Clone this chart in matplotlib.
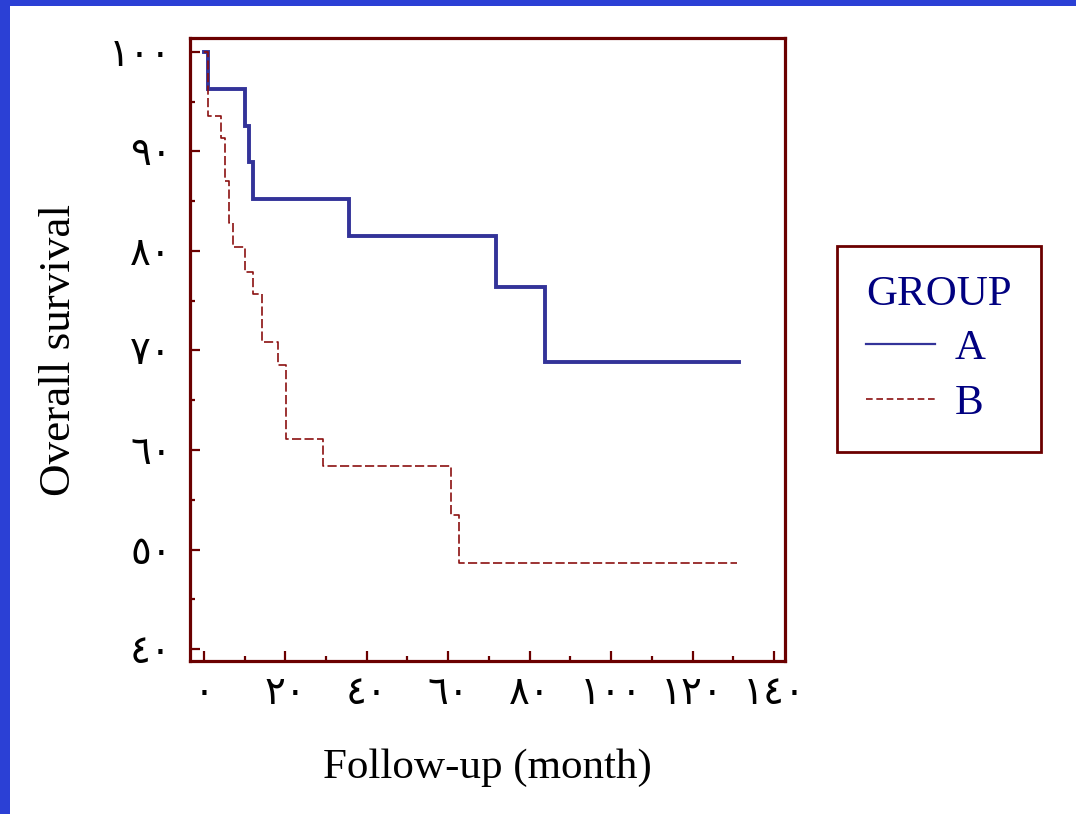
import matplotlib
matplotlib.use("Agg")
import matplotlib.pyplot as plt
from matplotlib.lines import Line2D
from matplotlib.patches import Rectangle
from matplotlib.ticker import MultipleLocator, FixedLocator, FuncFormatter

# ---------------- data ----------------
time_a = [0, 1.0, 10.2, 11.1, 12.1, 35.7, 71.7, 83.8, 131.3]
surv_a = [100, 96.3, 92.6, 88.9, 85.2, 81.5, 76.4, 68.8, 68.8]

time_b = [0, 1.0, 4.2, 5.2, 6.2, 7.2, 10.1, 12.1, 14.2, 18.1, 20.1, 29.2, 60.7, 62.7, 131.0]
surv_b = [100, 93.6, 91.4, 87.0, 82.8, 80.4, 77.9, 75.7, 70.9, 68.5, 61.1, 58.4, 53.5, 48.6, 48.6]

group_labels = ["A", "B"]
legend_title = "GROUP"
x_label = "Follow-up (month)"
y_label = "Overall survival"
x_ticks = [0, 20, 40, 60, 80, 100, 120, 140]
y_ticks = [40, 50, 60, 70, 80, 90, 100]

# ---------------- styling ----------------
W, H = 1076, 814
BLUE_BG = "#2B40D5"
FRAME = "#6B0000"
COL_A = "#333399"
COL_B = "#8B1010"
NAVY = "#000080"
SERIF = ["Liberation Serif", "DejaVu Serif"]
DIGIT_FONT = ["Liberation Serif", "DejaVu Sans"]

ARABIC = str.maketrans("0123456789", "٠١٢٣٤٥٦٧٨٩")


def to_arabic(v, pos=None):
    return str(int(round(v))).translate(ARABIC)


fig = plt.figure(figsize=(W / 100, H / 100), dpi=100, facecolor=BLUE_BG)
fig.add_artist(Rectangle((10 / W, 0), 1, (H - 6) / H, transform=fig.transFigure,
                         facecolor="white", edgecolor="none", zorder=-10))

ax = fig.add_axes([190 / W, (H - 661) / H, (785 - 190) / W, (661 - 38) / H])
ax.set_facecolor("white")

ax.plot(time_a, surv_a, drawstyle="steps-post", color=COL_A, lw=2.8,
        solid_joinstyle="miter", label=group_labels[0])
ax.plot(time_b, surv_b, drawstyle="steps-post", color=COL_B, lw=1.2,
        dashes=(5.5, 2.0), label=group_labels[1])

ax.set_xlim(-3.4, 142.7)
ax.set_ylim(38.8, 101.4)

ax.xaxis.set_major_locator(FixedLocator(x_ticks))
ax.xaxis.set_minor_locator(MultipleLocator(10))
ax.yaxis.set_major_locator(FixedLocator(y_ticks))
ax.yaxis.set_minor_locator(MultipleLocator(5))
ax.xaxis.set_major_formatter(FuncFormatter(to_arabic))
ax.yaxis.set_major_formatter(FuncFormatter(to_arabic))

ax.tick_params(which="both", direction="in", color=FRAME, width=1.6,
               top=False, right=False)
ax.tick_params(which="major", length=7.5)
ax.tick_params(which="minor", length=3.8)
ax.tick_params(axis="x", which="major", pad=11)
ax.tick_params(axis="y", which="major", pad=13)

for lab in ax.get_xticklabels() + ax.get_yticklabels():
    lab.set_fontfamily(DIGIT_FONT)
    lab.set_fontsize(28)
    lab.set_color("black")

for sp in ax.spines.values():
    sp.set_color(FRAME)
    sp.set_linewidth(2.3)

ax.set_xlabel(x_label, fontsize=31, family=SERIF, labelpad=25)
ax.set_ylabel(y_label, fontsize=32.5, family=SERIF, labelpad=22)

handles = [Line2D([], [], color=COL_A, lw=1.6),
           Line2D([], [], color=COL_B, lw=1.2, dashes=(4, 2.2))]
leg = fig.legend(handles, group_labels, title=legend_title,
                 loc="upper left",
                 bbox_to_anchor=(837 / W, 1 - 452 / H, 204 / W, 206 / H),
                 bbox_transform=fig.transFigure, mode="expand",
                 borderaxespad=0, borderpad=0.68, labelspacing=0.36,
                 handlelength=1.6, handletextpad=0.45,
                 prop={"family": SERIF, "size": 31},
                 title_fontproperties={"family": SERIF, "size": 31},
                 alignment="left", fancybox=False, framealpha=1)
leg.get_frame().set_edgecolor(FRAME)
leg.get_frame().set_linewidth(2.0)
leg.get_title().set_color(NAVY)
for t in leg.get_texts():
    t.set_color(NAVY)

fig.savefig("out.png", dpi=100, facecolor=fig.get_facecolor())
